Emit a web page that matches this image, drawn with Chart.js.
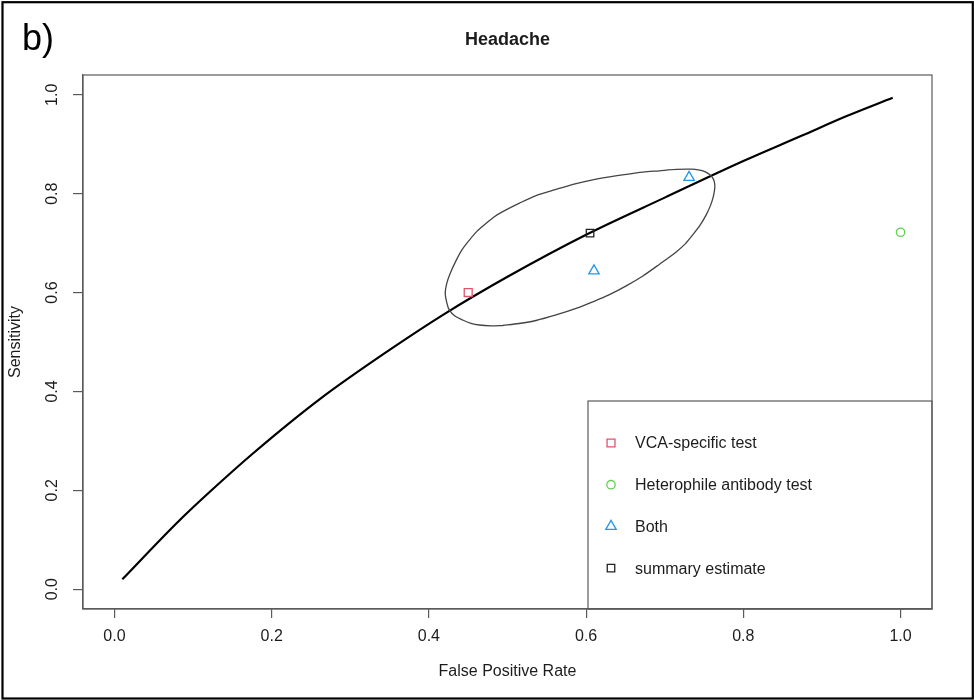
<!DOCTYPE html>
<html>
<head>
<meta charset="utf-8">
<title>Headache</title>
<script src="https://cdn.jsdelivr.net/npm/chart.js"></script>
<style>
  html, body { margin: 0; padding: 0; background: #fff; }
  #wrap { width: 974px; height: 700px; }
</style>
</head>
<body>
<div id="wrap"><canvas id="sroc" width="974" height="700"></canvas></div>
<script>
// axis ticks
const xTicks = [0.0, 0.2, 0.4, 0.6, 0.8, 1.0];
const yTicks = [0.0, 0.2, 0.4, 0.6, 0.8, 1.0];

// SROC curve
const curveFpr  = [0.01, 0.08, 0.12, 0.175, 0.26, 0.35, 0.42, 0.50, 0.60, 0.70, 0.80, 0.874, 0.93, 0.99];
const curveSens = [0.02, 0.135, 0.195, 0.273, 0.383, 0.484, 0.557, 0.632, 0.717, 0.792, 0.866, 0.917, 0.956, 0.994];

// confidence region around the summary point (closed outline, starts at the bottom)
const regionFpr = [
  0.4939, 0.5146, 0.5363, 0.5618, 0.5873, 0.6083, 0.6297, 0.6510, 0.6722, 0.6930,
  0.7146, 0.7261, 0.7359, 0.7452, 0.7529, 0.7580, 0.7614, 0.7634, 0.7637, 0.7618,
  0.7571, 0.7503, 0.7443, 0.7338, 0.7146, 0.6930, 0.6722, 0.6510, 0.6297, 0.6083,
  0.5873, 0.5618, 0.5363, 0.5146, 0.4939, 0.4828, 0.4726, 0.4611, 0.4513, 0.4420,
  0.4344, 0.4268, 0.4229, 0.4208, 0.4229, 0.4259, 0.4331, 0.4429, 0.4535, 0.4641,
  0.4790, 0.4939
];
const regionSens = [
  0.5334, 0.5374, 0.5435, 0.5547, 0.5678, 0.5810, 0.5957, 0.6134, 0.6336, 0.6569,
  0.6822, 0.6984, 0.7172, 0.7368, 0.7577, 0.7753, 0.7915, 0.8077, 0.8184, 0.8300,
  0.8387, 0.8451, 0.8478, 0.8496, 0.8490, 0.8462, 0.8435, 0.8391, 0.8340, 0.8279,
  0.8204, 0.8087, 0.7962, 0.7804, 0.7638, 0.7530, 0.7395, 0.7237, 0.7057, 0.6862,
  0.6640, 0.6377, 0.6194, 0.5986, 0.5789, 0.5648, 0.5526, 0.5445, 0.5379, 0.5344,
  0.5328, 0.5334
];

// study estimates
const legendLabels = ['VCA-specific test', 'Heterophile antibody test', 'Both', 'summary estimate'];
const vcaFpr = [0.45],         vcaSens = [0.60];
const heteroFpr = [1.0],       heteroSens = [0.722];
const bothFpr = [0.61, 0.731], bothSens = [0.644, 0.833];
const summaryFpr = [0.605],    summarySens = [0.72];

const pairs = (xs, ys) => xs.map((x, i) => ({ x: x, y: ys[i] }));

const ink = '#1c1c1c';
const frame = '#5a5a5a';

function pointSet(label, xs, ys, style, color, radius) {
  return {
    label: label,
    data: pairs(xs, ys),
    showLine: false,
    pointStyle: style,
    pointRadius: radius,
    pointBorderColor: color,
    pointBackgroundColor: 'rgba(0,0,0,0)',
    pointBorderWidth: 1.3,
    inLegend: true
  };
}

// R-style frame: plot box, outer border, panel letter, legend box
const decorations = {
  id: 'decorations',
  afterDatasetsDraw(chart) {
    const ctx = chart.ctx;
    const a = chart.chartArea;
    ctx.save();
    ctx.strokeStyle = frame;
    ctx.lineWidth = 1.2;
    ctx.strokeRect(a.left, a.top, a.right - a.left, a.bottom - a.top);

    // legend in the bottom-right corner
    const lx = a.right - 344, ly = a.bottom - 208;
    ctx.strokeRect(lx, ly, a.right - lx, a.bottom - ly);
    ctx.font = '16px "Liberation Sans", Arial, sans-serif';
    ctx.textBaseline = 'middle';
    ctx.textAlign = 'left';
    const rows = chart.data.datasets.filter(d => d.inLegend);
    rows.forEach((d, i) => {
      const y = ly + 42 + i * 41.7;
      ctx.fillStyle = 'rgba(0,0,0,0)';
      ctx.strokeStyle = d.pointBorderColor;
      ctx.lineWidth = d.pointBorderWidth;
      Chart.helpers.drawPoint(ctx, {
        pointStyle: d.pointStyle,
        radius: d.pointRadius,
        borderWidth: d.pointBorderWidth,
        rotation: 0
      }, lx + 23, y);
      ctx.fillStyle = ink;
      ctx.fillText(d.label, lx + 47, y + 1);
    });

    // outer border and panel letter
    ctx.strokeStyle = '#000';
    ctx.lineWidth = 2.2;
    ctx.strokeRect(2.5, 2.2, 970.3, 696.3);
    ctx.font = '36px "Liberation Sans", Arial, sans-serif';
    ctx.textBaseline = 'alphabetic';
    ctx.fillStyle = '#000';
    ctx.fillText('b)', 22, 50);
    ctx.restore();
  }
};

new Chart(document.getElementById('sroc'), {
  type: 'scatter',
  data: {
    datasets: [
      pointSet(legendLabels[0], vcaFpr, vcaSens, 'rect', '#DF536B', 5.6),
      pointSet(legendLabels[1], heteroFpr, heteroSens, 'circle', '#61D04F', 4.2),
      pointSet(legendLabels[2], bothFpr, bothSens, 'triangle', '#2297E6', 6),
      pointSet(legendLabels[3], summaryFpr, summarySens, 'rect', '#222', 5.3),
      {
        label: 'region',
        data: pairs(regionFpr, regionSens),
        showLine: true,
        borderColor: '#444',
        borderWidth: 1.3,
        tension: 0.3,
        pointRadius: 0
      },
      {
        label: 'SROC',
        data: pairs(curveFpr, curveSens),
        showLine: true,
        borderColor: '#000',
        borderWidth: 2.2,
        cubicInterpolationMode: 'monotone',
        pointRadius: 0
      }
    ]
  },
  options: {
    responsive: false,
    animation: false,
    events: [],
    layout: { padding: { left: 4, right: 42, top: 0, bottom: 4 } },
    plugins: {
      legend: { display: false },
      tooltip: { enabled: false },
      title: {
        display: true,
        text: 'Headache',
        fullSize: false,
        color: ink,
        font: { family: '"Liberation Sans", Arial, sans-serif', size: 18, weight: 'bold' },
        padding: { top: 29, bottom: 24.4 }
      }
    },
    scales: {
      x: {
        type: 'linear',
        min: -0.04,
        max: 1.04,
        afterBuildTicks: s => { s.ticks = xTicks.map(v => ({ value: v })); },
        afterFit: s => { s.height = 87; },
        grid: { drawOnChartArea: false, drawTicks: true, tickLength: 9, color: frame, lineWidth: 1.2 },
        border: { display: true, color: frame, width: 1.2 },
        ticks: {
          padding: 9,
          color: ink,
          font: { family: '"Liberation Sans", Arial, sans-serif', size: 16 },
          callback: v => v.toFixed(1)
        },
        title: {
          display: true,
          text: 'False Positive Rate',
          color: ink,
          font: { family: '"Liberation Sans", Arial, sans-serif', size: 16 },
          padding: { top: 0, bottom: 14.4 }
        }
      },
      y: {
        type: 'linear',
        min: -0.04,
        max: 1.04,
        afterBuildTicks: s => { s.ticks = yTicks.map(v => ({ value: v })); },
        afterFit: s => { s.width = 79; },
        grid: { drawOnChartArea: false, drawTicks: true, tickLength: 10, color: frame, lineWidth: 1.2 },
        border: { display: true, color: frame, width: 1.2 },
        ticks: {
          padding: 9,
          minRotation: 90,
          maxRotation: 90,
          crossAlign: 'center',
          color: ink,
          font: { family: '"Liberation Sans", Arial, sans-serif', size: 16 },
          callback: v => v.toFixed(1)
        },
        title: {
          display: true,
          text: 'Sensitivity',
          color: ink,
          font: { family: '"Liberation Sans", Arial, sans-serif', size: 16 },
          padding: { top: 2.4, bottom: 0 }
        }
      }
    }
  },
  plugins: [decorations]
});
</script>
</body>
</html>
